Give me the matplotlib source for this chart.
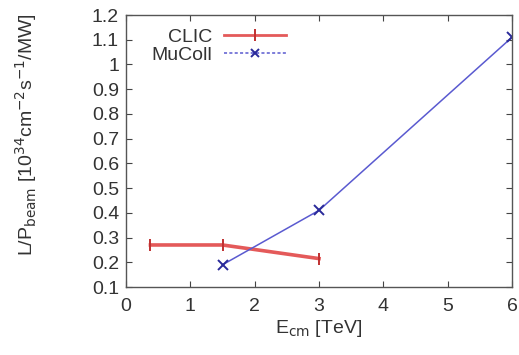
import matplotlib
matplotlib.use("Agg")
import matplotlib.pyplot as plt
from matplotlib.lines import Line2D

clic_x = [0.38, 1.5, 3.0]
clic_y = [0.27, 0.27, 0.215]
mucoll_x = [1.5, 3.0, 6.0]
mucoll_y = [0.19, 0.41, 1.11]

xticks = [0, 1, 2, 3, 4, 5, 6]
yticks = [0.1, 0.2, 0.3, 0.4, 0.5, 0.6, 0.7, 0.8, 0.9, 1.0, 1.1, 1.2]
ytick_labels = ["0.1", "0.2", "0.3", "0.4", "0.5", "0.6", "0.7", "0.8", "0.9", "1", "1.1", "1.2"]

plt.rcParams['font.family'] = ['Liberation Sans', 'DejaVu Sans']
fig = plt.figure(figsize=(5.19, 3.55), dpi=100)
ax = fig.add_axes([0.2428, 0.1915, 0.7437, 0.7662])

red = '#e45a5a'
blue = '#5a5ad0'
ax.plot(clic_x, clic_y, color=red, lw=2.6, marker='|', ms=9, mew=1.4, mec='#c03030', label='CLIC')
ax.plot(mucoll_x, mucoll_y, color=blue, lw=1.1, marker='x', ms=7, mew=1.4, mec='#2a2a9a', label='MuColl')

ax.set_xlim(0, 6)
ax.set_ylim(0.1, 1.2)
ax.set_xticks(xticks)
ax.set_xticklabels([str(t) for t in xticks])
ax.set_yticks(yticks)
ax.set_yticklabels(ytick_labels)
ax.tick_params(direction='in', top=True, right=True, labelsize=14, length=4, colors='#444444', labelcolor='#333333')
ax.tick_params(axis='x', pad=8)
ax.tick_params(axis='y', pad=5)
for s in ax.spines.values():
    s.set_color('#555555')
    s.set_linewidth(1.0)

ax.set_xlabel(r'E$_{\rm cm}$ [TeV]', fontsize=14, color='#333333', labelpad=2)
ax.set_ylabel(r'L/P$_{\rm beam}$ [10$^{34}$cm$^{-2}$s$^{-1}$/MW]', fontsize=14, color='#333333', labelpad=6)
ax.yaxis.set_label_coords(-0.225, 0.56)

h1 = Line2D([], [], color=red, lw=2.0, marker='|', ms=8, mew=1.4, mec='#c03030')
h2 = Line2D([], [], color=blue, lw=1.1, ls=(0, (2, 1.5)), marker='x', ms=6, mew=1.4, mec='#2a2a9a')
leg = ax.legend([h1, h2], ['CLIC', 'MuColl'], loc='upper left', bbox_to_anchor=(0.035, 0.995),
                frameon=False, markerfirst=False, fontsize=14, handlelength=3.2, handletextpad=0.6,
                labelspacing=0.05, borderaxespad=0.2)
for t in leg.get_texts():
    t.set_color('#333333')

fig.savefig('out.png', dpi=100)
